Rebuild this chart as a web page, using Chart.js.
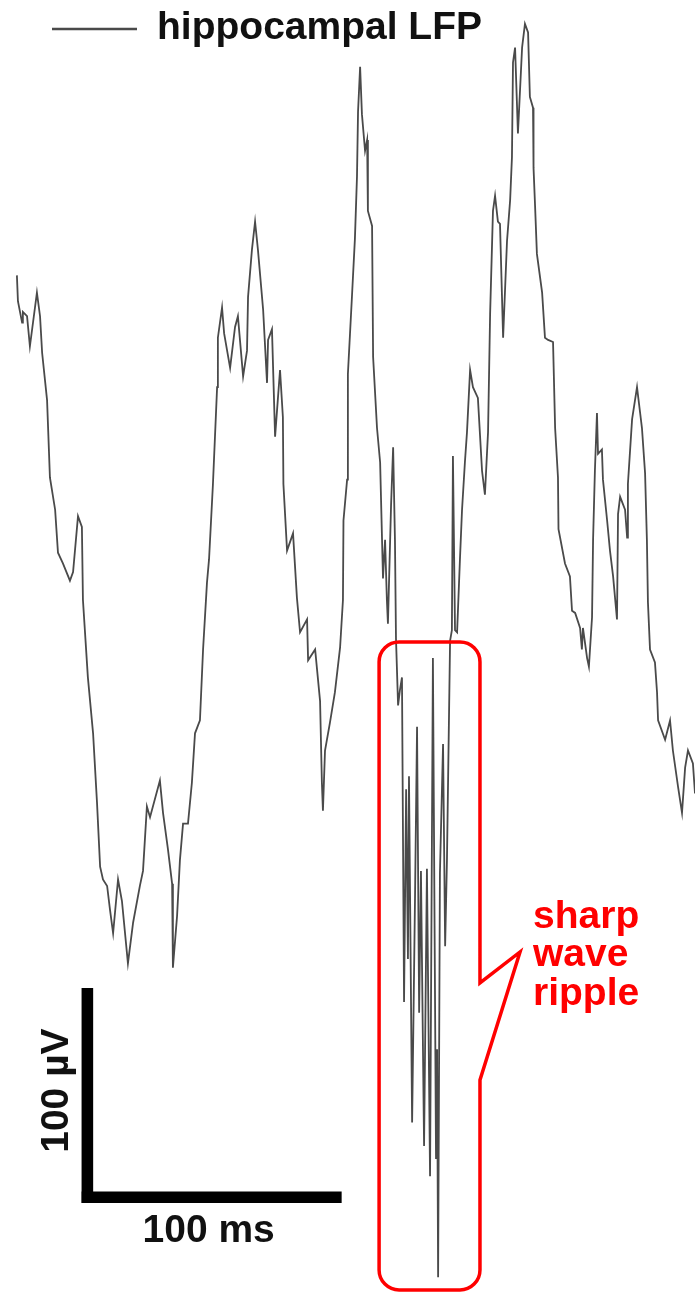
<!DOCTYPE html>
<html lang="en">
<head>
<meta charset="UTF-8">
<title>Hippocampal LFP</title>
<script src="https://cdn.jsdelivr.net/npm/chart.js@4.4.1/dist/chart.umd.min.js"></script>
<style>
  html, body { margin: 0; padding: 0; background: #fff; }
  canvas { display: block; }
</style>
</head>
<body>
<canvas id="lfpChart" width="695" height="1294"></canvas>
<script>
// LFP trace: time in ms, potential in µV
const timeMs = [
  6.5, 6.9, 8.5, 8.8, 10.4, 11.5, 14.2, 15.4, 16.2, 18.1,
  19.2, 21.2, 22.3, 24.2, 26.9, 28.1, 30.0, 31.5, 31.9, 33.8,
  35.8, 37.3, 38.5, 39.6, 41.2, 42.3, 43.5, 45.4, 46.9, 49.2,
  51.2, 53.8, 55.0, 56.5, 57.7, 61.5, 62.7, 64.6, 66.2, 66.5,
  68.1, 69.2, 70.4, 72.3, 73.8, 75.0, 76.9, 78.1, 79.6, 80.4,
  81.9, 83.5, 83.8, 85.4, 86.2, 88.5, 90.4, 91.5, 93.5, 95.0,
  95.4, 96.9, 98.1, 99.2, 101.2, 102.7, 103.1, 104.6, 105.8, 107.7,
  108.8, 109.0, 110.4, 112.7, 114.2, 115.4, 118.1, 118.5, 121.2, 123.1,
  123.8, 124.2, 125.0, 126.9, 128.8, 130.8, 131.9, 132.1, 133.5, 133.8,
  135.4, 136.5, 137.3, 137.7, 138.5, 139.2, 140.4, 141.2, 141.5, 143.1,
  143.5, 145.0, 146.2, 147.3, 148.1, 148.8, 149.2, 150.4, 151.2, 151.9,
  152.3, 153.1, 153.8, 154.6, 155.4, 156.2, 156.9, 157.3, 158.5, 159.6,
  160.4, 161.2, 161.9, 163.1, 164.2, 165.4, 166.5, 167.7, 168.1, 168.5,
  169.2, 170.4, 171.2, 171.9,
  173.1, 173.8, 174.2, 175.0, 175.8, 176.9, 177.7, 178.8, 179.6, 180.8,
  181.9, 183.8, 185.4, 186.5, 187.7, 188.5, 189.6, 190.4, 191.5, 192.3,
  193.5, 195.0, 196.2, 196.9, 197.3, 198.1, 199.2, 200.8, 201.9, 203.1,
  203.8, 205.0, 205.2, 205.8, 206.5, 208.5, 209.6, 210.8, 212.7, 213.5,
  214.6, 214.8, 217.3, 219.2, 220.0, 221.2, 223.1, 223.8, 224.2, 225.8,
  226.5, 227.7, 228.1, 228.8, 229.6, 230.0, 231.5, 231.9, 233.5, 234.6,
  235.8, 237.3, 237.7, 238.5, 240.4, 241.2, 241.5, 243.1, 245.0, 246.2,
  246.9, 248.1, 248.8, 249.2, 250.0, 251.9, 252.7, 253.1, 255.8, 257.7,
  258.8, 260.8, 262.3, 263.5, 264.6, 266.5, 267.3
];
const lfpUv = [
  151, 139, 129, 134, 132, 118, 143, 132, 115, 93,
  57, 42, 22, 17, 9, 13, 39, 34, 0, -36,
  -62, -94, -124, -130, -133, -144, -155, -130, -140, -169,
  -150, -133, -126, -96, -101, -84, -99, -116, -132, -171,
  -147, -121, -104, -104, -85, -62, -56, -23, 8, 19,
  54, 99, 122, 136, 124, 108, 127, 132, 104, 116,
  141, 163, 176, 163, 135, 101, 121, 126, 76, 107,
  85, 54, 23, 31, 1, -15, -9, -28, -23, -47,
  -85, -98, -70, -57, -43, -22, 0, 37, 56, 105,
  142, 168, 197, 227, 248, 226, 209, 214, 181, 174,
  113, 80, 64, 10, 28, 0, -11, 44, 71, 28,
  -18, -49, -42, -36, -187, -88, -167, -82, -243, -140,
  -59, -192, -126, -254, -125, -268, -27, -260, -209, -315,
  -127, -67, -161, -121,
  -19, -14, 67, -14, -15, 19, 42, 64, 78, 107,
  99, 94, 60, 49, 78, 133, 181, 188, 176, 175,
  122, 167, 186, 206, 250, 257, 217, 257, 268, 264,
  234, 229, 201, 183, 161, 143, 122, 121, 120, 80,
  57, 33, 17, 11, -5, -6, -13, -23, -13, -27,
  -31, -8, 28, 60, 87, 68, 70, 56, 37, 23,
  11, -9, 40, 48, 42, 29, 54, 84, 99, 87,
  80, 59, 28, -1, -23, -29, -43, -56, -65, -56,
  -70, -87, -99, -78, -70, -76, -90
];

// 100 ms / 100 µV calibration bar
const barTimeMs = [31.4, 131.4];
const barVoltUv = [-180.5, -280.5];

// sharp wave ripple window and its callout
const rippleTimeMs = [145.8, 184.6];
const rippleVoltUv = [-19.5, -320.9];
const calloutTip = [200.0, -163.7];
const calloutBaseUv = [-178.1, -223.3];
const rippleLabel = ['sharp', 'wave', 'ripple'];
const rippleLabelAt = [205.0, -152.5];

const FONT = 'bold 39px "Liberation Sans", Arial, sans-serif';

const tracePoints = timeMs.map((t, i) => ({ x: t, y: lfpUv[i] }));
const barHalf = 2.7; // half the bar thickness in µV
const barVertical = [
  { x: barTimeMs[0] + 2.2, y: barVoltUv[0] },
  { x: barTimeMs[0] + 2.2, y: barVoltUv[1] }
];
const barHorizontal = [
  { x: barTimeMs[0], y: barVoltUv[1] + barHalf },
  { x: barTimeMs[1], y: barVoltUv[1] + barHalf }
];

const overlay = {
  id: 'overlay',
  afterDatasetsDraw(chart) {
    const { ctx } = chart;
    const xs = chart.scales.x, ys = chart.scales.y;
    const l = xs.getPixelForValue(rippleTimeMs[0]);
    const r = xs.getPixelForValue(rippleTimeMs[1]);
    const t = ys.getPixelForValue(rippleVoltUv[0]);
    const b = ys.getPixelForValue(rippleVoltUv[1]);
    const tipX = xs.getPixelForValue(calloutTip[0]);
    const tipY = ys.getPixelForValue(calloutTip[1]);
    const a1 = ys.getPixelForValue(calloutBaseUv[0]);
    const a2 = ys.getPixelForValue(calloutBaseUv[1]);
    const rad = 20;

    ctx.save();
    // rounded box with a speech-bubble pointer
    ctx.beginPath();
    ctx.moveTo(l + rad, t);
    ctx.arcTo(r, t, r, b, rad);
    ctx.lineTo(r, a1);
    ctx.lineTo(tipX, tipY);
    ctx.lineTo(r, a2);
    ctx.arcTo(r, b, l, b, rad);
    ctx.arcTo(l, b, l, t, rad);
    ctx.arcTo(l, t, r, t, rad);
    ctx.closePath();
    ctx.strokeStyle = '#ff0000';
    ctx.lineWidth = 3.5;
    ctx.lineJoin = 'miter';
    ctx.stroke();

    ctx.font = FONT;
    ctx.fillStyle = '#ff0000';
    ctx.textAlign = 'left';
    ctx.textBaseline = 'alphabetic';
    const lx = xs.getPixelForValue(rippleLabelAt[0]);
    const ly = ys.getPixelForValue(rippleLabelAt[1]);
    rippleLabel.forEach((s, i) => ctx.fillText(s, lx, ly + i * 38.5));

    // calibration labels
    ctx.fillStyle = '#111';
    ctx.textAlign = 'center';
    const bx0 = xs.getPixelForValue(barTimeMs[0]);
    const bx1 = xs.getPixelForValue(barTimeMs[1]);
    const by0 = ys.getPixelForValue(barVoltUv[0]);
    const by1 = ys.getPixelForValue(barVoltUv[1]);
    ctx.fillText('100 ms', (bx0 + bx1) / 2 - 3, by1 + 39);
    ctx.save();
    ctx.translate(bx0 - 14, (by0 + by1) / 2 - 5);
    ctx.rotate(-Math.PI / 2);
    ctx.fillText('100 µV', 0, 0);
    ctx.restore();

    // legend
    const ds = chart.data.datasets[0];
    ctx.strokeStyle = ds.borderColor;
    ctx.lineWidth = 2.5;
    ctx.beginPath();
    ctx.moveTo(52, 29);
    ctx.lineTo(137, 29);
    ctx.stroke();
    ctx.fillStyle = '#111';
    ctx.textAlign = 'left';
    ctx.fillText(ds.label, 157, 39);
    ctx.restore();
  }
};

new Chart(document.getElementById('lfpChart'), {
  type: 'line',
  data: {
    datasets: [
      {
        label: 'hippocampal LFP',
        data: tracePoints,
        borderColor: '#4a4a4a',
        borderWidth: 1.8,
        pointRadius: 0,
        tension: 0
      },
      {
        label: 'bar y',
        data: barVertical,
        borderColor: '#000',
        borderWidth: 11.6,
        borderCapStyle: 'butt',
        pointRadius: 0
      },
      {
        label: 'bar x',
        data: barHorizontal,
        borderColor: '#000',
        borderWidth: 11.6,
        borderCapStyle: 'butt',
        pointRadius: 0
      }
    ]
  },
  options: {
    responsive: false,
    animation: false,
    devicePixelRatio: 1,
    layout: { padding: 0 },
    plugins: { legend: { display: false }, tooltip: { enabled: false } },
    scales: {
      x: { type: 'linear', min: 0, max: 267.3, display: false },
      y: { type: 'linear', min: -322.8, max: 279.1, display: false }
    }
  },
  plugins: [overlay]
});
</script>
</body>
</html>
